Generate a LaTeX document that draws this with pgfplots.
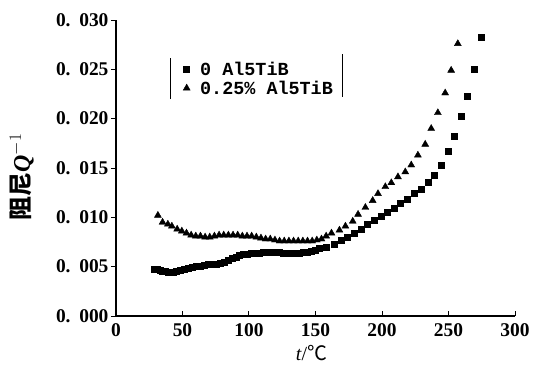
\documentclass[border=0pt]{standalone}
\usepackage{fontspec}
\setmainfont{Liberation Serif}
\setmonofont{Liberation Mono}
\newfontfamily\cjk{Noto Sans CJK SC}
\usepackage{pgfplots}
\pgfplotsset{compat=1.18}
\pgfplotstableread{
x y
29 0.0047
31 0.0047
33 0.0046
35 0.0045
37 0.0045
39 0.0044
41 0.0044
43 0.0044
45 0.0045
48 0.0046
51 0.0047
54 0.0048
57 0.0049
60 0.0050
63 0.0050
66 0.0051
69 0.0052
72 0.0052
75 0.0053
78 0.0054
81 0.0055
84 0.0057
87 0.0059
90 0.0060
93 0.0062
96 0.0063
99 0.0063
102 0.0064
105 0.0064
108 0.0064
111 0.0065
114 0.0065
117 0.0065
120 0.0065
123 0.0065
126 0.0064
129 0.0064
132 0.0064
135 0.0064
138 0.0064
141 0.0065
144 0.0065
147 0.0066
150 0.0067
153 0.0069
158 0.0070
164 0.0073
169.5 0.0077
174 0.0080
179 0.0084
184.5 0.0088
189 0.0093
194 0.0097
199.5 0.0101
204 0.0105
209 0.0109
214 0.0114
219 0.0118
224 0.0124
229.5 0.0129
235 0.0136
239 0.0143
244.5 0.0153
249.5 0.0167
254 0.0182
259.5 0.0203
264 0.0223
269 0.0250
274.5 0.0283
}\squares
\pgfplotstableread{
x y
31.5 0.0102
35 0.0095
39 0.0093
42 0.0091
46 0.0088
49.5 0.0086
53 0.0084
56.5 0.0082
60 0.0081
63.5 0.0081
67 0.0080
70.5 0.0080
74 0.0081
77.5 0.0082
81 0.0082
84.5 0.0082
88 0.0082
91.5 0.0082
95 0.0081
98.5 0.0081
102 0.0081
105.5 0.0080
109 0.0079
112.5 0.0078
116 0.0078
119.5 0.0077
123 0.0076
126.5 0.0076
130 0.0076
133.5 0.0076
137 0.0076
140.5 0.0076
144 0.0076
147.5 0.0076
151 0.0077
154.5 0.0078
158 0.0081
162 0.0084
168 0.0087
172.5 0.0091
178 0.0096
182 0.0103
187.5 0.0110
193 0.0117
197 0.0124
202.5 0.0131
207 0.0135
212 0.0141
217.5 0.0146
222 0.0153
227 0.0163
232.5 0.0174
237 0.0190
242 0.0206
247.5 0.0226
252 0.0249
257 0.0276
}\triangles
\begin{document}
\begin{tikzpicture}
\begin{axis}[
  scale only axis, width=399bp, height=296bp,
  xmin=0, xmax=300, ymin=0, ymax=0.030,
  axis lines=left,
  axis line style={-, line width=1.2bp},
  tick align=inside,
  major tick length=5bp,
  tick style={line width=1bp, black},
  ytick style={xshift=-5bp},
  xtick={0,50,100,150,200,250,300},
  xticklabels={\textbf{0},\textbf{50},\textbf{100},\textbf{150},\textbf{200},\textbf{250},\textbf{300}},
  ytick={0,0.005,0.010,0.015,0.020,0.025,0.030},
  yticklabels={0.\hspace{0.45em}000,0.\hspace{0.45em}005,0.\hspace{0.45em}010,0.\hspace{0.45em}015,0.\hspace{0.45em}020,0.\hspace{0.45em}025,0.\hspace{0.45em}030},
  scaled y ticks=false,
  xticklabel style={font=\fontsize{19.5}{21}\selectfont\bfseries, yshift=-4bp},
  yticklabel style={font=\fontsize{19.5}{21}\selectfont\bfseries, xshift=-4bp},
  xlabel={\textit{t}/{\cjk ℃}},
  xlabel style={font=\fontsize{20}{22}\selectfont, at={(axis description cs:0.49,-0.125)}, anchor=center},
  ylabel={{\cjk\bfseries 阻尼}\textbf{\textit{Q}}$^{-1}$},
  ylabel style={font=\fontsize{24}{26}\selectfont, at={(axis description cs:-0.236,0.47)}, anchor=center},
  legend style={draw=none, fill=none, font=\fontsize{18.5}{18.5}\selectfont\ttfamily\bfseries,
    at={(axis description cs:0.168,0.866)}, anchor=north west, inner sep=0pt, row sep=0pt,
    /tikz/every odd column/.append style={column sep=8bp}},
  legend cell align=left,
]
\addplot[only marks, mark=square*, mark size=3bp, black] table[x=x,y=y] {\squares};
\addlegendentry{0 Al5TiB}
\addplot[only marks, mark=triangle*, mark size=4bp, black] table[x=x,y=y] {\triangles};
\addlegendentry{0.25\% Al5TiB}
\draw[line width=0.6bp] (axis description cs:0.135,0.733) -- (axis description cs:0.135,0.872);
\draw[line width=0.6bp] (axis description cs:0.566,0.740) -- (axis description cs:0.566,0.885);
\end{axis}
\pgfresetboundingbox
\path (-116bp,-55bp) rectangle (417bp,316bp);
\end{tikzpicture}
\end{document}
